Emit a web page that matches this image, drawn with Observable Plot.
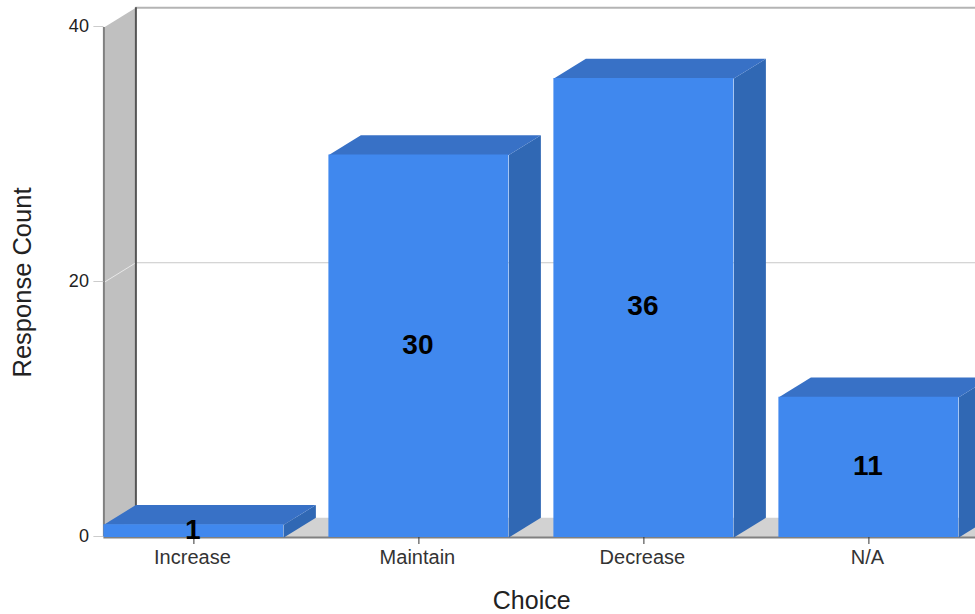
<!DOCTYPE html>
<html>
<head>
<meta charset="utf-8">
<script src="https://cdn.jsdelivr.net/npm/d3@7"></script>
<script src="https://cdn.jsdelivr.net/npm/@observablehq/plot@0.6"></script>
<style>
  html, body { margin: 0; background: #fff; }
  svg { display: block; }
</style>
</head>
<body>
<div id="chart"></div>
<script>
// Survey responses per choice
const categories = ["Increase", "Maintain", "Decrease", "N/A"];
const counts = [1, 30, 36, 11];
const yTicks = [0, 20, 40];

// Extrusion of the pseudo-3D boxes, in data units
const halfBar = 0.4;
const depthX = 0.1422;
const depthY = 1.55;
const xEnd = 3.4738;
const xStart = -halfBar;

const indices = categories.map((_, i) => i);
const bars = categories.map((name, i) => ({name, i, count: counts[i]}));

// Turns lists of [x, y] corners into rows for a filled line mark
const polygons = (shapes) =>
  shapes.flatMap((pts, id) => pts.map(([x, y]) => ({id, x, y})));

const wall = polygons([[
  [xStart, 0], [xStart + depthX, depthY], [xStart + depthX, 40 + depthY], [xStart, 40]
]]);
const floor = polygons([[
  [xStart, 0], [xStart + depthX, depthY], [xEnd + depthX, depthY], [xEnd + depthX, 0]
]]);
const tops = polygons(bars.map((b) => [
  [b.i - halfBar, b.count], [b.i + halfBar, b.count],
  [b.i + halfBar + depthX, b.count + depthY], [b.i - halfBar + depthX, b.count + depthY]
]));
const sides = polygons(bars.map((b) => [
  [b.i + halfBar, 0], [b.i + halfBar + depthX, depthY],
  [b.i + halfBar + depthX, b.count + depthY], [b.i + halfBar, b.count]
]));
const wallGrid = polygons(yTicks.slice(1, 2).map((t) => [
  [xStart, t], [xStart + depthX, t + depthY]
]));

const filled = (rows, fill) => Plot.line(rows, {x: "x", y: "y", z: "id", fill, stroke: "none"});

const plot = Plot.plot({
  width: 975,
  height: 614,
  marginTop: 27,
  marginBottom: 77,
  marginLeft: 103.4,
  marginRight: 0,
  style: {background: "#fff", fontFamily: "'Liberation Sans', Arial, sans-serif"},
  x: {domain: [xStart, xEnd]},
  y: {domain: [0, 40]},
  marks: [
    // Chart box: side wall, floor and grid
    filled(wall, "#c0c0c0"),
    filled(floor, "#d2d2d2"),
    Plot.ruleY([20 + depthY], {x1: xStart + depthX, x2: xEnd, stroke: "#c8c8c8", strokeWidth: 1}),
    Plot.ruleY([40 + depthY], {x1: xStart + depthX, x2: xEnd, stroke: "#b4b4b4", strokeWidth: 2}),
    Plot.line(wallGrid, {x: "x", y: "y", z: "id", stroke: "#e8e8e8", strokeWidth: 1}),
    Plot.ruleX([xStart + depthX], {y1: depthY, y2: 40 + depthY, stroke: "#555", strokeWidth: 2}),
    Plot.ruleX([xStart], {y1: 0, y2: 40, stroke: "#808080", strokeWidth: 2}),
    Plot.ruleY([0], {x1: xStart, x2: xEnd, stroke: "#808080", strokeWidth: 2}),

    // Boxes
    filled(sides, "#3068b4"),
    filled(tops, "#3871c6"),
    Plot.rect(bars, {
      x1: (d) => d.i - halfBar,
      x2: (d) => d.i + halfBar,
      y1: 0,
      y2: "count",
      fill: "#4088ee"
    }),

    // Axes
    Plot.axisY({ticks: yTicks, tickSize: 10, tickPadding: 5, dy: -1, stroke: "#ccc", fill: "#222", fontSize: 18, label: null}),
    Plot.axisX({ticks: indices, tickSize: 7, tickFormat: () => "", stroke: "#333", label: null}),
    Plot.axisX({
      ticks: indices, tickSize: 0, tickPadding: 12, dx: -1.5,
      tickFormat: (i) => categories[i], fill: "#333", fontSize: 20, label: null
    }),
    Plot.text(["Choice"], {frameAnchor: "bottom", dx: -8, dy: 63, fontSize: 25, fill: "#222", lineAnchor: "middle"}),
    Plot.text(["Response Count"], {frameAnchor: "left", dx: -81.4, rotate: -90, fontSize: 25.5, fill: "#222", textAnchor: "middle"}),

    // Value labels
    Plot.text(bars, {
      x: "i",
      y: (d) => d.count / 2,
      text: (d) => String(d.count),
      dx: -1,
      dy: -1.5,
      fontSize: 28,
      fontWeight: "bold",
      fill: "#000"
    })
  ]
});

document.getElementById("chart").append(plot);
</script>
</body>
</html>
